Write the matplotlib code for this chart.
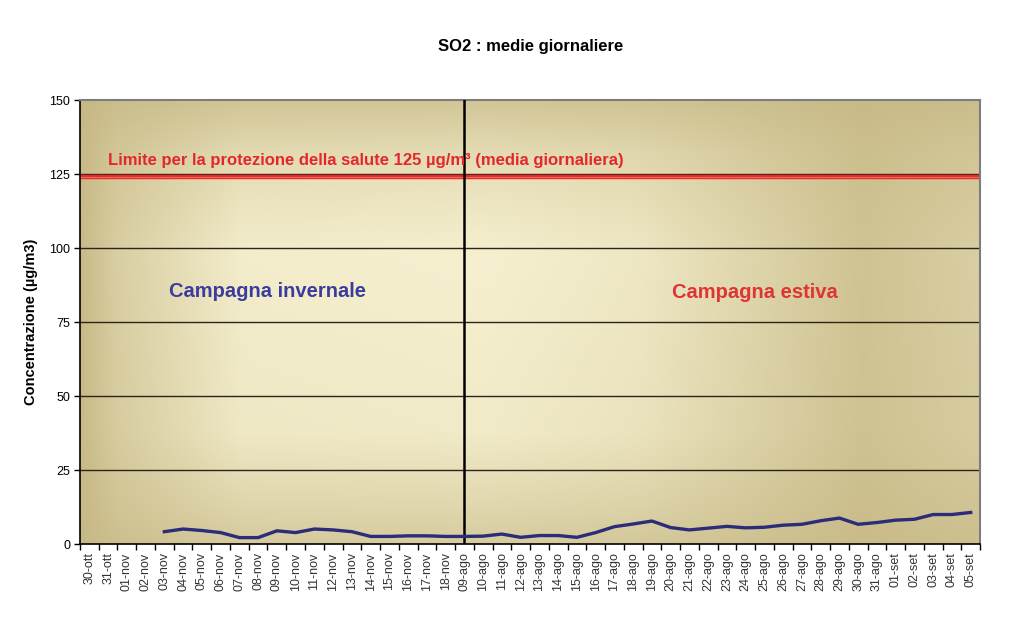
import numpy as np
import matplotlib.pyplot as plt
from matplotlib.ticker import FixedLocator

plt.rcParams.update({
    'font.family': ['Liberation Sans', 'DejaVu Sans'],
    'font.size': 9,
})

# daily means, SO2 (µg/m3) - winter campaign (ott/nov) then summer campaign (ago/set)
days = ['30-ott', '31-ott', '01-nov', '02-nov', '03-nov', '04-nov', '05-nov', '06-nov',
        '07-nov', '08-nov', '09-nov', '10-nov', '11-nov', '12-nov', '13-nov', '14-nov',
        '15-nov', '16-nov', '17-nov', '18-nov',
        '09-ago', '10-ago', '11-ago', '12-ago', '13-ago', '14-ago', '15-ago', '16-ago',
        '17-ago', '18-ago', '19-ago', '20-ago', '21-ago', '22-ago', '23-ago', '24-ago',
        '25-ago', '26-ago', '27-ago', '28-ago', '29-ago', '30-ago', '31-ago',
        '01-set', '02-set', '03-set', '04-set', '05-set']
so2 = [np.nan, np.nan, np.nan, np.nan, 4.2, 5.1, 4.6, 3.9,
       2.2, 2.2, 4.5, 3.9, 5.1, 4.8, 4.2, 2.6,
       2.6, 2.8, 2.8, 2.6,
       2.6, 2.7, 3.4, 2.3, 2.9, 2.9, 2.3, 3.9,
       5.9, 6.8, 7.8, 5.6, 4.8, 5.4, 6.0, 5.5,
       5.7, 6.4, 6.7, 7.9, 8.8, 6.7, 7.3,
       8.1, 8.4, 10.0, 10.0, 10.7]
limit_value = 124
campaign_split = '09-ago'
y_ticks = [0, 25, 50, 75, 100, 125, 150]

fig = plt.figure(figsize=(10.24, 6.24), dpi=100)
ax = fig.add_axes([0.0781, 0.128, 0.879, 0.7115])

x = np.arange(len(days))

# khaki gradient background like the spreadsheet fill
gx = np.linspace(0, 1, 500)
gy = np.linspace(0, 1, 250)
hx = np.interp(gx, [0, 0.04, 0.18, 0.45, 0.62, 0.87, 1.0], [0.95, 0.6, 0.05, 0.0, 0.15, 0.8, 0.6])
vy = np.interp(gy, [0, 0.12, 0.35, 0.75, 0.92, 1.0], [0.75, 0.35, 0.0, 0.1, 0.45, 0.65])
d = 1 - np.outer(1 - vy, 1 - hx)
light = np.array([246, 240, 208]) / 255
dark = np.array([198, 184, 132]) / 255
img = light[None, None, :] * (1 - d[..., None]) + dark[None, None, :] * d[..., None]
ax.imshow(img, extent=[0, 1, 0, 1], transform=ax.transAxes, aspect='auto', zorder=0)

ax.set_xlim(-0.5, len(days) - 0.5)
ax.set_ylim(0, 150)

for yv in y_ticks[1:-1]:
    ax.axhline(yv, color='#2b2418', lw=1.0, zorder=1)

ax.axhline(limit_value, color='#e8282a', lw=3.2, zorder=2)
ax.axhline(limit_value, color='#f06a5a', lw=0.8, zorder=2)
split_idx = days.index(campaign_split)
ax.axvline(split_idx, color='black', lw=1.8, zorder=3)

ax.plot(x, so2, color='#2b2c7a', lw=2.4, zorder=4, solid_joinstyle='round')

ax.text(1.0, 129.7, 'Limite per la protezione della salute 125 µg/m³ (media giornaliera)',
        color='#e3282c', fontsize=12, fontweight='bold', va='center', ha='left', zorder=5)
ax.text(9.5, 85.5, 'Campagna invernale', color='#3a3d9e', fontsize=14.5,
        fontweight='bold', ha='center', va='center', zorder=5)
ax.text(35.5, 85, 'Campagna estiva', color='#de3434', fontsize=14.5,
        fontweight='bold', ha='center', va='center', zorder=5)

ax.set_yticks(y_ticks)
ax.tick_params(axis='y', direction='out', length=4, width=1, labelsize=9, pad=3)
ax.set_xticks(x)
ax.set_xticklabels(days, rotation=90, fontsize=9, color='#333333')
ax.xaxis.set_minor_locator(FixedLocator(np.arange(-0.5, len(days), 1)))
ax.tick_params(axis='x', which='major', length=0, pad=6)
ax.tick_params(axis='x', which='minor', direction='out', length=4, width=1)

for side in ['left', 'bottom']:
    ax.spines[side].set_color('black')
    ax.spines[side].set_linewidth(1.2)
for side in ['top', 'right']:
    ax.spines[side].set_color('#7d7d7d')
    ax.spines[side].set_linewidth(1.5)

ax.set_ylabel('Concentrazione (µg/m3)', fontsize=10.5, fontweight='bold', labelpad=8)

fig.text(0.518, 0.925, 'SO2 : medie giornaliere', ha='center', va='center',
         fontsize=12, fontweight='bold')

plt.savefig('out.png', dpi=100)
